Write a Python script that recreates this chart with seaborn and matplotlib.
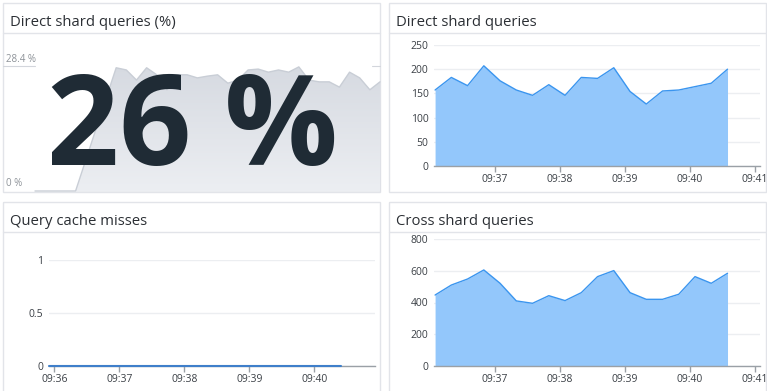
import numpy as np
import pandas as pd
import matplotlib.pyplot as plt
import matplotlib.dates as mdates
from matplotlib.patches import Rectangle
from matplotlib.colors import LinearSegmentedColormap
import seaborn as sns

# --- data ---
spark_idx = [0, 1, 2, 3, 4] + list(range(8, 35))
spark_pct = [0, 0, 0, 0, 0,
             28.0, 27.5, 25.2, 28.0, 26.4, 23.0, 26.4, 26.4, 25.7, 26.1,
             26.4, 24.5, 25.2, 27.5, 27.7, 27.0, 27.5, 27.0, 28.2, 25.2,
             24.8, 24.8, 23.6, 27.0, 25.7, 23.0, 24.8]
spark_max = 28.4
current_pct = "26 %"

shard_times = pd.date_range("2024-01-01 09:36:05", periods=19, freq="15s")
direct_shard = [157, 183, 166, 207, 176, 157, 146, 168, 146, 183,
                181, 203, 154, 128, 155, 157, 164, 171, 200]
cross_shard = [447, 510, 548, 605, 521, 410, 395, 443, 412, 462,
               563, 601, 462, 420, 420, 452, 563, 521, 584]

cache_times = pd.date_range("2024-01-01 09:35:55", periods=19, freq="15s")
cache_misses = [0] * 19

sns.set_theme(style="white")
plt.rcParams['font.family'] = ['Open Sans', 'DejaVu Sans']

W, H = 767, 391
fig = plt.figure(figsize=(W / 100, H / 100), dpi=100)
fig.patch.set_facecolor('white')


def px_axes(x0, y0, x1, y1, **kw):
    return fig.add_axes([x0 / W, 1 - y1 / H, (x1 - x0) / W, (y1 - y0) / H], **kw)


# background layer for panel frames and titles
bg = px_axes(0, 0, W, H, zorder=-1)
bg.set_xlim(0, W)
bg.set_ylim(H, 0)
bg.axis('off')

border = '#e2e4e9'
panels = [(3, 3, 377, 189, 33, 'Direct shard queries (%)'),
          (389, 3, 377, 189, 33, 'Direct shard queries'),
          (3, 202, 377, 200, 232, 'Query cache misses'),
          (389, 202, 377, 200, 232, 'Cross shard queries')]
for x, y, w, h, sep, title in panels:
    bg.add_patch(Rectangle((x, y), w, h, fill=False, ec=border, lw=1))
    bg.plot([x, x + w], [sep, sep], color=border, lw=1)
    bg.text(x + 7, sep - 7, title, fontsize=10.7, color='#2b2f34',
            va='baseline', ha='left')

# --- stat panel with sparkline ---
sp = px_axes(35, 66, 380, 191)
sp.set_facecolor('none')
poly = sp.fill_between(spark_idx, spark_pct, color='#dde0e6', lw=0)
grad_cmap = LinearSegmentedColormap.from_list('g', ['#eceef2', '#d6dae1'])
grad = np.linspace(0, 1, 100).reshape(-1, 1)
im = sp.imshow(grad, extent=[0, 34, 0, spark_max], aspect='auto',
               cmap=grad_cmap, origin='lower', zorder=1)
im.set_clip_path(poly.get_paths()[0], sp.transData)
sns.lineplot(x=spark_idx, y=spark_pct, ax=sp, color='#c9ced6', lw=1, zorder=2, clip_on=False)
sp.set_xlim(0, 34)
sp.set_ylim(0, spark_max)
sp.axis('off')

bg.plot([3, 35], [66, 66], color='#d3d6dc', lw=0.8)
bg.plot([372, 380], [66, 66], color='#d3d6dc', lw=0.8)
bg.text(6, 65, f"{spark_max} %", fontsize=7, color='#8d9298', va='bottom', ha='left')
bg.text(6, 184, "0 %", fontsize=7, color='#8d9298', va='center', ha='left')

fig.text(192 / W, 1 - 165 / H, current_pct, fontsize=91, fontweight='bold',
         color='#1f2b35', ha='center', va='baseline', zorder=5)


# --- time series panels ---
def style_time_axes(ax):
    ax.set_facecolor('none')
    for s in ['top', 'right', 'left']:
        ax.spines[s].set_visible(False)
    ax.spines['bottom'].set_color('#9aa0a6')
    ax.spines['bottom'].set_linewidth(1)
    ax.yaxis.grid(True, color='#eceef1', lw=1)
    ax.xaxis.grid(False)
    ax.set_axisbelow(True)
    ax.tick_params(axis='y', length=0, pad=4, labelsize=7.5, labelcolor='#3b4046')
    ax.tick_params(axis='x', length=4, width=1, color='#9aa0a6', pad=2,
                   labelsize=7.5, labelcolor='#3b4046', bottom=True)
    ax.xaxis.set_major_locator(mdates.MinuteLocator())
    ax.xaxis.set_major_formatter(mdates.DateFormatter('%H:%M'))
    ax.set_xlabel('')
    ax.set_ylabel('')


fill_c = '#93c7fb'
line_c = '#3a95ef'

ax1 = px_axes(434, 45, 760, 166)
ax1.fill_between(shard_times, direct_shard, color=fill_c, lw=0)
sns.lineplot(x=shard_times, y=direct_shard, ax=ax1, color=line_c, lw=1)
ax1.set_ylim(0, 250)
ax1.set_yticks([0, 50, 100, 150, 200, 250])
ax1.set_xlim(pd.Timestamp("2024-01-01 09:36:04"), pd.Timestamp("2024-01-01 09:41:05"))
style_time_axes(ax1)

ax2 = px_axes(434, 239, 760, 366)
ax2.fill_between(shard_times, cross_shard, color=fill_c, lw=0)
sns.lineplot(x=shard_times, y=cross_shard, ax=ax2, color=line_c, lw=1)
ax2.set_ylim(0, 800)
ax2.set_yticks([0, 200, 400, 600, 800])
ax2.set_xlim(pd.Timestamp("2024-01-01 09:36:04"), pd.Timestamp("2024-01-01 09:41:05"))
style_time_axes(ax2)

ax3 = px_axes(49, 260, 375, 366)
sns.lineplot(x=cache_times, y=cache_misses, ax=ax3, color='#3f7fca', lw=1.5, zorder=3)
ax3.set_ylim(0, 1)
ax3.set_yticks([0, 0.5, 1])
ax3.set_yticklabels(['0', '0.5', '1'])
ax3.set_xlim(pd.Timestamp("2024-01-01 09:35:55"), pd.Timestamp("2024-01-01 09:40:56"))
style_time_axes(ax3)
for line in ax3.lines:
    line.set_clip_on(False)

fig.savefig('out.png', dpi=100)
